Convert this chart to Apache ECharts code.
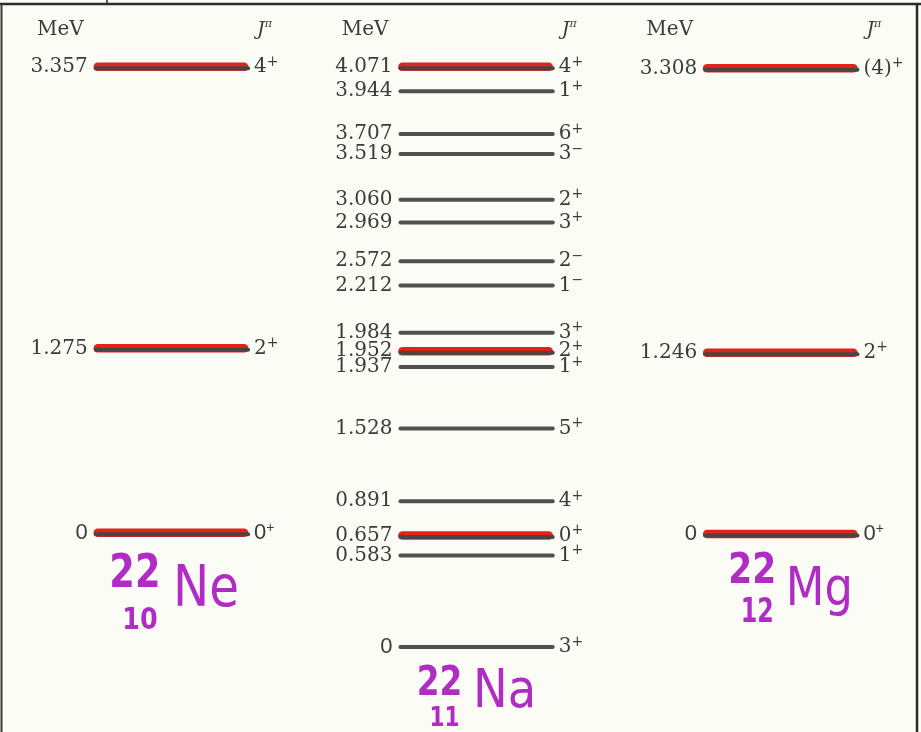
<!DOCTYPE html>
<html><head><meta charset="utf-8">
<script src="https://cdn.jsdelivr.net/npm/echarts@6/dist/echarts.min.js"></script>
<style>html,body{margin:0;padding:0;background:#fcfcf6}#c{width:921px;height:732px}</style>
</head><body><div id="c"></div>
<script>
// ---- data ----
const nuclei = ['Ne', 'Na', 'Mg'];
const isoMass = ['22', '22', '22'];
const isoZ = ['10', '11', '12'];

// 22Ne levels (energy label, J^pi, drawn height on the schematic MeV scale, analog-state flag)
const neEnergy = ['0', '1.275', '3.357'];
const neSpin = ['0+', '2+', '4+'];
const neHeight = [0.80, 2.09, 4.06];
const neAnalog = [1, 1, 1];

// 22Na levels
const naEnergy = ['0', '0.583', '0.657', '0.891', '1.528', '1.937', '1.952', '1.984', '2.212', '2.572', '2.969', '3.060', '3.519', '3.707', '3.944', '4.071'];
const naSpin = ['3+', '1+', '0+', '4+', '5+', '1+', '2+', '3+', '1-', '2-', '3+', '2+', '3-', '6+', '1+', '4+'];
const naHeight = [0.00, 0.64, 0.78, 1.02, 1.53, 1.96, 2.07, 2.20, 2.53, 2.70, 2.97, 3.13, 3.45, 3.59, 3.89, 4.06];
const naAnalog = [0, 0, 1, 0, 0, 0, 1, 0, 0, 0, 0, 0, 0, 0, 0, 1];

// 22Mg levels
const mgEnergy = ['0', '1.246', '3.308'];
const mgSpin = ['0+', '2+', '(4)+'];
const mgHeight = [0.79, 2.06, 4.05];
const mgAnalog = [1, 1, 1];

const headerUnit = 'MeV';

// ---- build ----
const columns = [
  { energy: neEnergy, spin: neSpin, height: neHeight, analog: neAnalog },
  { energy: naEnergy, spin: naSpin, height: naHeight, analog: naAnalog },
  { energy: mgEnergy, spin: mgSpin, height: mgHeight, analog: mgAnalog }
];
const levels = [];
columns.forEach((c, ci) => c.energy.forEach((e, i) => {
  levels.push({ value: [ci, c.height[i]], energy: e, spin: c.spin[i], analog: c.analog[i], col: ci });
}));
const isoData = columns.map((c, ci) => ({ value: [ci, c.height[0]] }));

const SERIF = '"DejaVu Serif", "Liberation Serif", serif';
const SANS = '"Liberation Sans", Arial, sans-serif';
const HAND = '"DejaVu Sans", sans-serif';
const TXT = '#3b3b3b';
const MAGENTA = '#b02cc4';
// placement relative to ground line for the hand-written isotope labels:
// [dx, dy, fontSize, scaleX, bold]
const isoLayout = [
  { mass: [-37, 42, 46, 0.8, 1], z: [-32, 89, 30, 0.85, 1], sym: [34, 58, 57, 0.85, 0] },
  { mass: [-37, 37, 41, 0.8, 1], z: [-32, 72, 27, 0.8, 1], sym: [28, 46, 54, 0.86, 0] },
  { mass: [-29, 38, 42, 0.82, 1], z: [-24, 79, 33, 0.72, 1], sym: [38, 57, 54, 0.83, 0] }
];

function spinRich(s) {
  const sign = s.slice(-1);
  const base = s.slice(0, -1);
  return '{n|' + base + '}{s|' + (sign === '-' ? '\u2212' : '+') + '}';
}

function handText(str, cx, cy, p) {
  return { type: 'text', x: cx + p[0], y: cy + p[1], scaleX: p[3], scaleY: 1,
    style: { text: str, fontSize: p[2], fontWeight: p[4] ? 'bold' : 'normal',
      fill: MAGENTA, fontFamily: HAND, align: 'center', verticalAlign: 'middle' } };
}

const chart = echarts.init(document.getElementById('c'));
chart.setOption({
  backgroundColor: '#fcfcf6',
  animation: false,
  grid: { left: 19.6, width: 914, top: 4, bottom: 85, outerBoundsMode: 'none', containLabel: false },
  xAxis: { type: 'category', data: nuclei, show: false, boundaryGap: true },
  yAxis: { type: 'value', min: 0, max: 4.5, show: false },
  graphic: [
    { type: 'line', shape: { x1: 0, y1: 4, x2: 921, y2: 4 }, style: { stroke: '#2b2b2b', lineWidth: 2.5 } },
    { type: 'line', shape: { x1: 1.5, y1: 4, x2: 1.5, y2: 732 }, style: { stroke: '#3a3a3a', lineWidth: 2 } },
    { type: 'line', shape: { x1: 917, y1: 4, x2: 917, y2: 732 }, style: { stroke: '#2b2b2b', lineWidth: 2.5 } },
    { type: 'line', shape: { x1: 107, y1: 0, x2: 107, y2: 4 }, style: { stroke: '#2b2b2b', lineWidth: 1.5 } }
  ],
  series: [
    {
      type: 'custom',
      clip: false,
      data: levels,
      encode: { x: 0, y: 1 },
      renderItem: function (params, api) {
        const lv = levels[params.dataIndex];
        const c = api.coord([api.value(0), api.value(1)]);
        const half = api.size([1, 0])[0] * 0.25;
        const x0 = c[0] - half, x1 = c[0] + half, y = c[1];
        const ch = [];
        if (lv.analog) {
          ch.push({ type: 'line', shape: { x1: x0 + 2, y1: y, x2: x1 - 4, y2: y },
            style: { stroke: '#e3231b', lineWidth: 8.5, lineCap: 'round' } });
          ch.push({ type: 'line', shape: { x1: x0, y1: y + 1.5, x2: x1, y2: y + 1.5 },
            style: { stroke: '#4a4545', lineWidth: 4, lineCap: 'round' } });
        } else {
          ch.push({ type: 'line', shape: { x1: x0, y1: y, x2: x1, y2: y },
            style: { stroke: '#505050', lineWidth: 4, lineCap: 'round' } });
        }
        const zeroSans = lv.energy === '0';
        ch.push({ type: 'text', x: x0 - 8, y: y,
          style: { text: lv.energy, fill: TXT, fontSize: zeroSans ? 22 : 20, fontFamily: zeroSans ? SANS : SERIF,
            align: 'right', verticalAlign: 'middle' } });
        const spinSans = zeroSans && lv.col !== 1;
        ch.push({ type: 'text', x: x1 + 6, y: y,
          style: { text: spinRich(lv.spin), align: 'left', verticalAlign: 'middle',
            rich: {
              n: { fill: TXT, fontSize: spinSans ? 22 : 20, fontFamily: spinSans ? SANS : SERIF, lineHeight: 24 },
              s: { fill: TXT, fontSize: 14, fontFamily: spinSans ? SANS : SERIF, lineHeight: 24, verticalAlign: 'top' }
            } } });
        return { type: 'group', children: ch };
      }
    },
    {
      type: 'custom',
      clip: false,
      data: isoData,
      encode: { x: 0, y: 1 },
      renderItem: function (params, api) {
        const i = params.dataIndex;
        const c = api.coord([api.value(0), api.value(1)]);
        const half = api.size([1, 0])[0] * 0.25;
        const x0 = c[0] - half, x1 = c[0] + half;
        const topY = params.coordSys.y + 26;
        const L = isoLayout[i];
        return { type: 'group', children: [
          { type: 'text', x: x0 - 12, y: topY,
            style: { text: headerUnit, fill: TXT, fontSize: 20, fontFamily: SERIF, align: 'right', verticalAlign: 'middle' } },
          { type: 'text', x: x1 + 9, y: topY,
            style: { text: '{j|J}{p|\u03c0}', align: 'left', verticalAlign: 'middle',
              rich: {
                j: { fill: TXT, fontSize: 19, fontFamily: SERIF, fontStyle: 'italic', lineHeight: 22 },
                p: { fill: TXT, fontSize: 11, fontFamily: SERIF, fontStyle: 'italic', lineHeight: 22, verticalAlign: 'top' }
              } } },
          handText(isoMass[i], c[0], c[1], L.mass),
          handText(isoZ[i], c[0], c[1], L.z),
          handText(nuclei[i], c[0], c[1], L.sym)
        ] };
      }
    }
  ]
});
</script>
</body></html>
